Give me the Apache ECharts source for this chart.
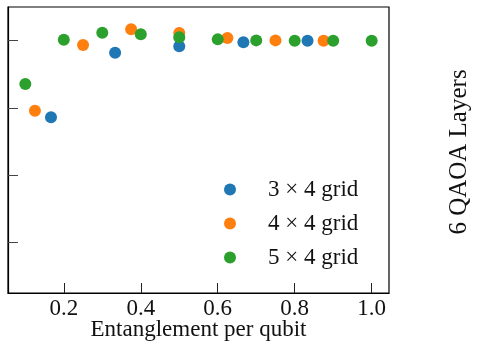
<!DOCTYPE html>
<html>
<head>
<meta charset="utf-8">
<script src="https://cdn.jsdelivr.net/npm/echarts@6/dist/echarts.min.js"></script>
<style>
  html, body { margin: 0; padding: 0; background: #fff; }
  #chart { width: 477px; height: 352px; }
</style>
</head>
<body>
<div id="chart"></div>
<script>
// series names
const names = ['3 × 4 grid', '4 × 4 grid', '5 × 4 grid'];
const colors = ['#1f77b4', '#ff7f0e', '#2ca02c'];

// entanglement per qubit (x) and y value
const x3 = [0.1667, 0.3333, 0.5, 0.6667, 0.8333];
const y3 = [0.886, 0.982, 0.9915, 0.9975, 1.0];
const x4 = [0.125, 0.25, 0.375, 0.5, 0.625, 0.75, 0.875];
const y4 = [0.896, 0.9936, 1.0168, 1.0115, 1.004, 1.0004, 1.0];
const x5 = [0.1, 0.2, 0.3, 0.4, 0.5, 0.6, 0.7, 0.8, 0.9, 1.0];
const y5 = [0.9355, 1.0015, 1.0119, 1.0094, 1.0049, 1.0019, 1.0004, 1.0, 1.0, 1.0];

// ticks
const xTicks = [0.2, 0.4, 0.6, 0.8, 1.0];
const yTicks = [0.7, 0.8, 0.9, 1.0];

const serif = 'Liberation Serif';

function pairs(xs, ys) {
  return xs.map((x, i) => [x, ys[i]]);
}

const chart = echarts.init(document.getElementById('chart'), null, { renderer: 'canvas' });

const option = {
  animation: false,
  backgroundColor: '#fff',
  grid: {
    left: 8, right: 88, top: 7, bottom: 59,
    show: true,
    borderColor: '#000',
    borderWidth: 1.2
  },
  xAxis: {
    type: 'value',
    min: 0.055,
    max: 1.045,
    splitLine: { show: false },
    axisLine: { lineStyle: { color: '#000', width: 1.2 } },
    axisTick: {
      inside: true, length: 10,
      customValues: xTicks,
      lineStyle: { color: '#222', width: 1 }
    },
    axisLabel: {
      customValues: xTicks,
      formatter: v => v.toFixed(1),
      fontFamily: serif, fontSize: 23, color: '#111',
      margin: 4
    },
    name: 'Entanglement per qubit',
    nameLocation: 'middle',
    nameGap: 25,
    nameMoveOverlap: false,
    nameTextStyle: { fontFamily: serif, fontSize: 23, color: '#111' }
  },
  yAxis: {
    type: 'value',
    min: 0.625,
    max: 1.05,
    splitLine: { show: false },
    axisLine: { lineStyle: { color: '#000', width: 1.2 } },
    axisTick: {
      inside: true, length: 10,
      customValues: yTicks,
      lineStyle: { color: '#444', width: 1 }
    },
    axisLabel: { show: false }
  },
  legend: {
    orient: 'vertical',
    left: 219,
    top: 173,
    icon: 'circle',
    itemWidth: 12,
    itemHeight: 12,
    itemGap: 11,
    textStyle: {
      fontFamily: serif, fontSize: 23, color: '#111',
      padding: [0, 0, 0, 27]
    },
    data: names
  },
  graphic: [{
    type: 'text',
    x: 459,
    y: 152,
    rotation: Math.PI / 2,
    style: {
      text: '6 QAOA Layers',
      font: '25px "Liberation Serif"',
      fill: '#111',
      align: 'center',
      verticalAlign: 'middle'
    }
  }],
  series: [
    { name: names[0], type: 'scatter', symbolSize: 12, itemStyle: { color: colors[0], opacity: 1 }, data: pairs(x3, y3) },
    { name: names[1], type: 'scatter', symbolSize: 12, itemStyle: { color: colors[1], opacity: 1 }, data: pairs(x4, y4) },
    { name: names[2], type: 'scatter', symbolSize: 12, itemStyle: { color: colors[2], opacity: 1 }, data: pairs(x5, y5) }
  ]
};

chart.setOption(option);
</script>
</body>
</html>
